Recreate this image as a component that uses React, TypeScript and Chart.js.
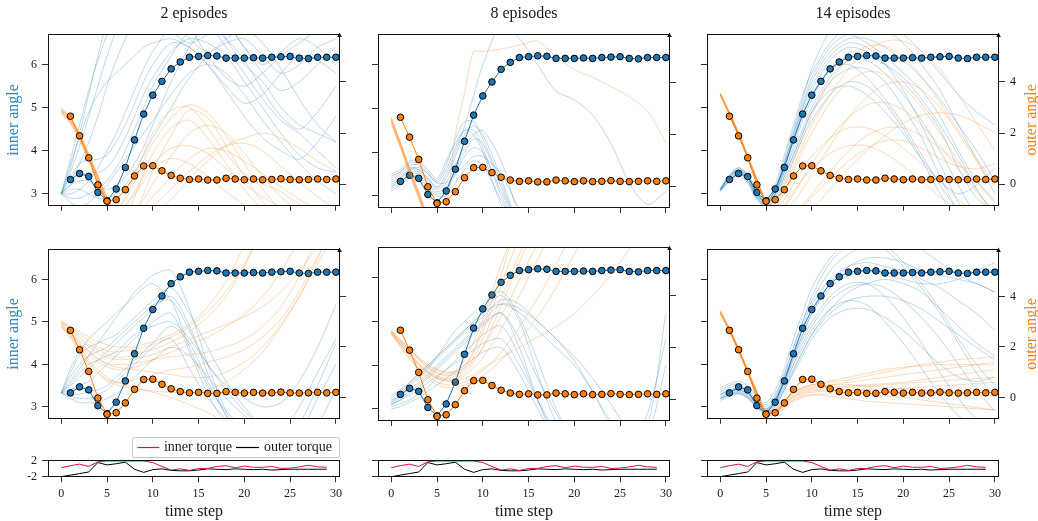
import React, { useEffect, useRef } from 'react';
import { Chart, registerables } from 'chart.js';

Chart.register(...registerables);

// ---------------- data ----------------
const COLUMN_TITLES = ['2 episodes', '8 episodes', '14 episodes'];
const X_TICKS = [0, 5, 10, 15, 20, 25, 30];
const INNER_TICKS = [3, 4, 5, 6];
const OUTER_TICKS = [0, 2, 4];
const TORQUE_TICKS = [-2, 2];

const STEPS = [1, 2, 3, 4, 5, 6, 7, 8, 9, 10, 11, 12, 13, 14, 15, 16, 17, 18, 19, 20, 21, 22, 23, 24, 25, 26, 27, 28, 29, 30];
const INNER_TARGET = [3.33, 3.47, 3.4, 3.03, 2.84, 3.11, 3.61, 4.25, 4.85, 5.29, 5.61, 5.9, 6.06, 6.17, 6.19, 6.21, 6.2, 6.15, 6.15, 6.15, 6.16, 6.15, 6.17, 6.18, 6.19, 6.15, 6.14, 6.17, 6.17, 6.17];
const OUTER_TARGET = [2.66, 1.89, 1.03, -0.03, -0.67, -0.61, -0.22, 0.32, 0.71, 0.72, 0.52, 0.34, 0.23, 0.18, 0.2, 0.16, 0.16, 0.23, 0.2, 0.17, 0.2, 0.17, 0.18, 0.21, 0.18, 0.17, 0.18, 0.2, 0.18, 0.2];

const TORQUE_STEPS = [0, 1, 2, 3, 4, 5, 6, 7, 8, 9, 10, 11, 12, 13, 14, 15, 16, 17, 18, 19, 20, 21, 22, 23, 24, 25, 26, 27, 28, 29];
const INNER_TORQUE = [0.3, 0.8, 1.2, 0.6, 1.8, 2, 2, 2, 2, 2, 1.6, 0.6, -0.3, 0, -0.4, 0.1, 0.1, 0.6, 0.8, 0.3, 0.7, 0.4, 0.4, 0.6, 0.1, 0.2, 0.5, 0.9, 0.5, 0.4];
const OUTER_TORQUE = [-2, -1.6, -1.2, -0.8, 1.6, 1.0, 1.3, 1.7, -0.1, -0.9, -0.2, 0, -0.4, -0.5, -0.5, -0.3, 0, -0.1, -0.2, 0, -0.1, -0.2, -0.1, -0.3, -0.2, -0.1, -0.1, -0.1, -0.1, -0.1];

// time grid of the sampled rollout trajectories
const ROLLOUT_STEPS = [0, 1, 2, 3, 4, 5, 6, 7, 8, 9, 10, 12, 14, 16, 18, 20, 22, 24, 26, 28, 30];

// top row, 2 episodes
const INNER_ROLLOUTS_2_TOP = [
  [3.0, 3.6, 4.4, 5.3, 6.2, 7.0, 7.6, 8, 8, 8, 8, 8, 8, 7.4, 6.6, 6.0, 5.6, 5.0, 4.6, 4.4, 4.2],
  [3.0, 3.3, 3.7, 4.2, 4.8, 5.5, 6.1, 6.6, 7.0, 7.4, 7.6, 7.2, 6.6, 6.3, 6.5, 6.6, 6.2, 5.8, 6.0, 6.4, 6.6],
  [3.0, 3.2, 3.4, 3.5, 3.5, 3.6, 3.9, 4.3, 4.8, 5.3, 5.7, 6.3, 6.6, 6.5, 6.2, 5.6, 5.0, 4.4, 3.9, 3.6, 3.5],
  [3.0, 2.9, 2.9, 3.0, 3.1, 3.3, 3.6, 4.0, 4.5, 5.0, 5.5, 6.2, 6.8, 7.2, 7.0, 6.4, 6.0, 6.3, 6.6, 6.4, 6.0],
  [3.0, 3.1, 3.1, 3.0, 2.9, 2.9, 3.0, 3.2, 3.5, 3.9, 4.3, 5.0, 5.7, 6.2, 6.6, 6.8, 6.5, 5.9, 5.2, 4.6, 4.2],
  [3.0, 3.8, 4.6, 5.4, 6.1, 6.7, 7.2, 7.6, 8, 8, 8, 7.6, 6.9, 6.2, 5.7, 5.5, 5.8, 6.2, 6.5, 6.8, 7.0],
  [3.0, 3.4, 3.7, 3.8, 3.8, 3.9, 4.2, 4.6, 5.1, 5.6, 6.0, 6.5, 6.4, 6.0, 5.4, 4.8, 4.3, 4.0, 3.8, 4.2, 4.8],
  [3.0, 2.8, 2.7, 2.8, 3.0, 3.2, 3.5, 3.8, 4.1, 4.4, 4.7, 5.3, 5.8, 6.0, 5.8, 5.3, 4.7, 4.2, 3.7, 3.3, 3.0],
  [3.0, 3.5, 4.1, 4.8, 5.5, 6.2, 6.8, 7.3, 7.6, 7.6, 7.4, 6.8, 6.5, 6.7, 6.9, 6.4, 5.8, 5.4, 5.6, 6.0, 6.4],
  [3.0, 3.2, 3.3, 3.3, 3.2, 3.1, 3.2, 3.4, 3.7, 4.1, 4.6, 5.6, 6.4, 6.9, 6.6, 6.1, 5.4, 4.8, 4.5, 4.9, 5.5],
  [3.0, 3.7, 4.3, 4.9, 5.3, 5.6, 5.8, 6.0, 6.2, 6.4, 6.5, 6.6, 6.4, 6.0, 5.5, 5.1, 5.3, 5.8, 6.2, 6.1, 5.8],
  [3.0, 3.0, 3.1, 3.3, 3.6, 4.0, 4.4, 4.9, 5.4, 5.9, 6.3, 6.9, 7.3, 7.0, 6.4, 5.8, 5.2, 4.7, 4.4, 4.0, 3.6],
];
const OUTER_ROLLOUTS_2_TOP = [
  [2.95, 2.55, 1.95, 1.15, 0.3, -0.55, -1.3, -1.6, -1.2, -0.4, 0.5, 1.9, 2.9, 2.6, 1.5, 0.3, -0.7, -1.3, -1.5],
  [2.9, 2.5, 1.85, 1.05, 0.2, -0.7, -1.4, -1.3, -0.5, 0.4, 1.2, 2.2, 2.5, 1.8, 0.8, -0.2, -1.0, -1.4],
  [2.85, 2.45, 1.8, 1.0, 0.15, -0.75, -1.2, -0.9, -0.3, 0.3, 0.8, 1.4, 1.5, 1.2, 0.6, 0.0, -0.5, -0.9, -1.2, -1.4],
  [2.8, 2.4, 1.75, 0.95, 0.1, -0.8, -1.5, -1.5, -1.1, -0.6, 0.0, 1.1, 2.0, 2.3, 2.0, 1.2, 0.3, -0.5, -1.1, -1.4],
  [2.98, 2.6, 2.0, 1.2, 0.35, -0.5, -1.0, -0.6, 0.1, 0.9, 1.6, 2.6, 3.1, 2.8, 1.9, 0.8, -0.2, -1.0, -1.4],
  [2.75, 2.35, 1.7, 0.9, 0.05, -0.85, -1.4, -1.4, -1.2, -0.9, -0.5, 0.3, 1.0, 1.4, 1.3, 0.9, 0.4, -0.1, -0.6, -1.0, -1.3],
  [2.92, 2.52, 1.9, 1.1, 0.25, -0.6, -1.1, -0.8, -0.4, 0.1, 0.6, 1.0, 0.8, 0.3, -0.3, -0.8, -1.2],
  [2.88, 2.48, 1.88, 1.08, 0.22, -0.65, -1.3, -1.6, -1.6, -1.3, -0.9, -0.2, 0.5, 1.1, 1.5, 1.6, 1.3, 0.7, 0.1, -0.5, -1.0],
  [2.82, 2.44, 1.82, 1.02, 0.18, -0.72, -1.0, -0.5, 0.3, 1.2, 2.0, 2.9, 3.0, 2.2, 1.2, 0.4, 0.0, -0.3, -0.8, -1.2],
  [2.96, 2.58, 1.98, 1.18, 0.32, -0.52, -1.2, -1.5, -1.5, -1.5, -1.2, -0.6, 0.2, 0.9, 1.5, 1.8, 2.0, 1.8, 1.4, 0.9, 0.5],
];

// top row, 8 episodes
const INNER_ROLLOUTS_8_TOP = [
  [3.3, 3.45, 3.6, 3.6, 3.4, 3.2, 3.4, 3.9, 4.4, 4.6, 4.4, 3.4, 2.2],
  [3.2, 3.35, 3.5, 3.5, 3.3, 3.1, 3.2, 3.6, 4.0, 4.3, 4.2, 3.2, 2.2],
  [3.4, 3.55, 3.7, 3.7, 3.5, 3.3, 3.6, 4.1, 4.5, 4.5, 4.1, 3.0, 2.2],
  [3.1, 3.25, 3.4, 3.4, 3.2, 3.0, 3.0, 3.3, 3.6, 3.8, 3.7, 2.9, 2.2],
  [3.5, 3.6, 3.8, 3.8, 3.6, 3.4, 3.8, 4.2, 4.5, 4.4, 4.0, 2.8, 2.2],
  [3.25, 3.4, 3.55, 3.55, 3.35, 3.15, 3.3, 3.7, 4.1, 4.4, 4.5, 3.8, 2.6, 2.2],
  [3.35, 3.5, 3.65, 3.6, 3.4, 3.2, 3.5, 4.0, 4.6, 5.3, 6.0, 6.9, 6.6, 6.0, 5.4, 5.2, 4.85, 4.2, 3.3, 2.8, 3.1],
  [3.15, 3.3, 3.45, 3.45, 3.25, 3.05, 3.1, 3.5, 3.9, 4.1, 4.0, 3.1, 2.2],
  [3.45, 3.55, 3.75, 3.75, 3.55, 3.35, 3.7, 4.3, 4.7, 4.7, 4.3, 3.3, 2.2],
  [3.2, 3.4, 3.6, 3.65, 3.5, 3.3, 3.3, 3.5, 3.7, 3.9, 3.9, 3.5, 2.7, 2.2],
];
const OUTER_ROLLOUTS_8_TOP = [
  [2.65, 1.7, 0.7, -0.25, -1.2, -2],
  [2.6, 1.65, 0.65, -0.3, -1.25, -2],
  [2.55, 1.6, 0.6, -0.35, -1.3, -2],
  [2.5, 1.55, 0.55, -0.4, -1.35, -2],
  [2.45, 1.5, 0.5, -0.45, -1.4, -2],
  [2.62, 1.68, 0.72, -0.2, -1.15, -2],
  [2.42, 1.45, 0.45, -0.5, -1.45, -2],
  [2.55, 1.6, 0.6, -0.35, -1.3, -2, -1.0, 2.0, 3.6, 5.2, 5.2, 5.3, 5.45, 5.6, 5.0, 4.5, 4.2, 3.85, 3.45, 2.9, 1.67],
];

// top row, 14 episodes
const INNER_ROLLOUTS_14_TOP = [
  [3.1, 3.4, 3.55, 3.4, 3.0, 2.8, 3.1, 3.7, 4.4, 5.0, 5.5, 6.2, 6.5, 6.4, 6.0, 5.4, 4.6, 3.7, 2.8, 2.2],
  [3.1, 3.35, 3.5, 3.35, 2.95, 2.75, 3.0, 3.5, 4.1, 4.7, 5.2, 5.9, 6.2, 6.1, 5.8, 5.3, 4.7, 4.0, 3.2, 2.5, 2.2],
  [3.05, 3.3, 3.45, 3.3, 2.9, 2.7, 2.9, 3.4, 3.9, 4.4, 4.9, 5.6, 5.9, 5.9, 5.6, 5.0, 4.3, 3.4, 2.6, 2.2],
  [3.1, 3.4, 3.6, 3.45, 3.05, 2.85, 3.2, 3.9, 4.6, 5.3, 5.8, 6.5, 6.9, 7.0, 6.8, 6.5, 6.0, 5.4, 4.6, 3.8, 3.0],
  [3.08, 3.32, 3.48, 3.3, 2.9, 2.75, 3.0, 3.6, 4.2, 4.8, 5.3, 5.9, 6.0, 5.7, 5.2, 4.6, 3.9, 3.2, 2.6, 2.2],
  [3.12, 3.45, 3.6, 3.45, 3.05, 2.8, 3.05, 3.6, 4.3, 5.0, 5.6, 6.3, 6.6, 6.6, 6.4, 6.1, 5.7, 5.2, 4.6, 4.0, 3.3],
  [3.06, 3.28, 3.42, 3.25, 2.85, 2.7, 2.85, 3.3, 3.8, 4.3, 4.7, 5.3, 5.6, 5.5, 5.1, 4.5, 3.8, 3.0, 2.4, 2.2],
  [3.1, 3.38, 3.55, 3.4, 3.0, 2.8, 3.1, 3.8, 4.5, 5.2, 5.9, 6.8, 7.2, 7.2, 7.0, 6.7, 6.3, 5.8, 5.3, 4.9, 4.6],
  [3.09, 3.36, 3.52, 3.36, 2.97, 2.78, 3.0, 3.5, 4.0, 4.5, 5.0, 5.7, 6.1, 6.2, 6.0, 5.7, 5.2, 4.6, 3.9, 3.1, 2.5],
  [3.11, 3.42, 3.58, 3.42, 3.02, 2.82, 3.1, 3.7, 4.4, 5.1, 5.7, 6.4, 6.7, 6.5, 6.2, 5.8, 5.4, 4.8, 4.0, 3.3, 2.8],
  [3.07, 3.3, 3.46, 3.3, 2.92, 2.72, 2.95, 3.4, 3.9, 4.4, 4.9, 5.4, 5.5, 5.3, 4.9, 4.4, 3.8, 3.3, 3.0, 3.2, 3.6],
  [3.1, 3.4, 3.55, 3.38, 2.98, 2.8, 3.08, 3.7, 4.3, 4.9, 5.4, 6.1, 6.4, 6.3, 6.0, 5.6, 5.1, 4.5, 3.6, 2.9, 2.6],
];
const OUTER_ROLLOUTS_14_TOP = [
  [3.55, 2.8, 2.0, 1.1, 0.2, -0.7, -0.9, -0.3, 0.5, 1.3, 2.0, 3.2, 4.0, 4.4, 4.3, 3.8, 3.0, 2.0, 0.9, -0.2, -1.2],
  [3.5, 2.75, 1.95, 1.05, 0.15, -0.75, -1.2, -0.9, -0.4, 0.2, 0.8, 1.8, 2.6, 3.1, 3.2, 2.9, 2.3, 1.5, 0.6, -0.3, -1.1],
  [3.48, 2.72, 1.92, 1.02, 0.12, -0.78, -1.3, -1.3, -1.1, -0.8, -0.4, 0.5, 1.3, 1.9, 2.2, 2.2, 1.9, 1.4, 0.8, 0.1, -0.6],
  [3.57, 2.82, 2.02, 1.12, 0.22, -0.68, -0.7, 0.0, 0.9, 1.8, 2.7, 4.0, 4.9, 5.4, 5.4, 5.0, 4.2, 3.2, 2.1, 1.0, 0.0],
  [3.52, 2.77, 1.97, 1.07, 0.17, -0.73, -1.0, -0.6, 0.0, 0.6, 1.1, 1.8, 2.2, 2.2, 1.9, 1.4, 0.8, 0.1, -0.6, -1.2],
  [3.46, 2.7, 1.9, 1.0, 0.1, -0.8, -1.4, -1.5, -1.5, -1.3, -1.0, -0.2, 0.6, 1.3, 1.9, 2.4, 2.7, 2.8, 2.7, 2.4, 2.0],
  [3.54, 2.79, 1.99, 1.09, 0.19, -0.71, -0.8, -0.1, 0.7, 1.5, 2.3, 3.5, 4.5, 5.2, 5.6, 5.6, 5.2, 4.5, 3.5, 2.4, 1.3],
  [3.5, 2.74, 1.94, 1.04, 0.14, -0.76, -1.1, -0.8, -0.3, 0.2, 0.6, 1.2, 1.5, 1.5, 1.2, 0.7, 0.1, -0.5, -1.0, -1.4],
  [3.56, 2.8, 2.0, 1.1, 0.2, -0.7, -1.2, -1.1, -0.7, -0.2, 0.4, 1.5, 2.6, 3.4, 3.9, 4.0, 3.7, 3.0, 2.0, 0.9, -0.1],
  [3.49, 2.73, 1.93, 1.03, 0.13, -0.77, -1.3, -1.4, -1.2, -0.9, -0.5, 0.2, 0.9, 1.4, 1.7, 1.7, 1.4, 1.0, 0.7, 0.6, 0.8],
];

// bottom row, 2 episodes
const INNER_ROLLOUTS_2_BOTTOM = [
  [3.33, 3.6, 3.9, 4.2, 4.5, 4.8, 5.1, 5.4, 5.7, 5.9, 6.1, 6.2, 5.3, 4.0, 2.9, 2.2],
  [3.33, 3.5, 3.7, 3.9, 4.1, 4.3, 4.5, 4.7, 4.9, 5.1, 5.3, 5.6, 4.9, 3.8, 2.8, 2.2, 2.2, 2.2, 2.2, 2.6, 3.4],
  [3.33, 3.3, 3.3, 3.35, 3.4, 3.5, 3.7, 3.9, 4.1, 4.3, 4.5, 4.9, 4.5, 3.6, 2.8, 2.2, 2.2, 2.2, 2.6, 3.5, 4.5],
  [3.33, 3.8, 4.2, 4.4, 4.5, 4.6, 4.7, 4.9, 5.1, 5.3, 5.5, 5.8, 5.2, 4.4, 3.6, 3.0, 2.5, 2.2],
  [3.33, 3.2, 3.1, 3.1, 3.1, 3.2, 3.3, 3.5, 3.7, 3.9, 4.1, 4.4, 4.2, 3.7, 3.2, 2.8, 2.4, 2.2],
  [3.33, 3.7, 4.0, 4.2, 4.3, 4.4, 4.6, 4.8, 5.0, 5.2, 5.4, 5.5, 4.8, 4.0, 3.5, 3.2, 3.0, 3.1, 3.6, 4.4, 5.4],
  [3.33, 3.4, 3.5, 3.6, 3.8, 4.0, 4.2, 4.4, 4.6, 4.8, 5.0, 5.2, 4.3, 3.3, 2.6, 2.2],
  [3.33, 3.9, 4.3, 4.6, 4.8, 5.0, 5.2, 5.4, 5.6, 5.8, 5.9, 5.5, 4.4, 3.5, 2.9, 2.5, 2.2, 2.2, 2.4, 3.2, 4.0],
  [3.33, 3.25, 3.2, 3.2, 3.3, 3.4, 3.6, 3.8, 4.0, 4.2, 4.4, 4.6, 3.9, 3.2, 2.7, 2.2, 2.2, 2.4, 3.0, 3.8, 4.6],
  [3.33, 3.55, 3.8, 4.0, 4.1, 4.2, 4.3, 4.5, 4.7, 4.8, 4.9, 5.0, 4.6, 4.0, 3.4, 2.9, 2.5, 2.2],
];
const OUTER_ROLLOUTS_2_BOTTOM = [
  [3.0, 2.7, 2.4, 2.1, 1.9, 1.7, 1.6, 1.6, 1.7, 1.8, 1.9, 2.2, 2.6, 3.2, 4.0, 5.2, 6.5, 7],
  [2.9, 2.5, 2.1, 1.7, 1.4, 1.2, 1.1, 1.1, 1.2, 1.3, 1.5, 1.8, 2.1, 2.4, 2.8, 3.3, 4.0, 5.0, 6.2, 7],
  [2.8, 2.4, 1.9, 1.4, 1.0, 0.7, 0.6, 0.6, 0.7, 0.8, 0.9, 1.1, 1.2, 1.4, 1.6, 1.9, 2.4, 3.1, 4.2, 5.6, 7],
  [3.05, 2.8, 2.6, 2.4, 2.2, 2.1, 2.0, 2.0, 2.0, 2.1, 2.2, 2.5, 2.9, 3.6, 4.6, 6.0, 7],
  [2.95, 2.6, 2.2, 1.85, 1.55, 1.35, 1.3, 1.3, 1.35, 1.4, 1.5, 1.6, 1.7, 1.8, 2.0, 2.3, 2.8, 3.6, 4.8, 6.3, 7],
  [2.85, 2.45, 2.0, 1.5, 1.1, 0.8, 0.6, 0.5, 0.4, 0.3, 0.2, 0.0, -0.3, -0.6, -1.0, -1.4],
  [3.0, 2.65, 2.3, 2.0, 1.75, 1.6, 1.5, 1.5, 1.55, 1.6, 1.7, 2.0, 2.3, 2.6, 2.9, 3.2, 3.6, 4.2, 5.0, 6.0, 7],
  [2.9, 2.55, 2.15, 1.8, 1.5, 1.3, 1.2, 1.15, 1.1, 1.05, 1.0, 0.9, 0.8, 0.8, 1.0, 1.4, 2.0, 2.9, 4.0, 5.3, 6.6],
  [2.8, 2.35, 1.85, 1.35, 0.95, 0.65, 0.5, 0.4, 0.35, 0.3, 0.25, 0.2, 0.2, 0.3, 0.6, 1.1, 1.8, 2.8, 4.0, 5.5, 7],
  [3.02, 2.75, 2.5, 2.25, 2.0, 1.85, 1.8, 1.85, 1.9, 2.0, 2.1, 2.4, 2.8, 3.4, 4.2, 5.3, 6.6, 7],
];

// bottom row, 8 episodes
const INNER_ROLLOUTS_8_BOTTOM = [
  [3.1, 3.2, 3.35, 3.5, 3.7, 3.9, 4.1, 4.3, 4.5, 4.7, 4.9, 5.2, 4.4, 3.2, 2.2],
  [3.15, 3.3, 3.5, 3.7, 3.9, 4.2, 4.4, 4.6, 4.8, 5.0, 5.2, 5.6, 5.0, 3.8, 2.7, 2.2],
  [3.05, 3.12, 3.2, 3.35, 3.5, 3.7, 3.9, 4.1, 4.3, 4.5, 4.7, 4.9, 4.2, 3.2, 2.4, 2.2, 2.2, 2.2, 2.2, 2.9, 4.6],
  [3.25, 3.4, 3.6, 3.8, 4.0, 4.2, 4.4, 4.6, 4.8, 5.0, 5.2, 5.4, 5.2, 4.8, 4.4, 4.0, 3.4, 2.6, 2.2],
  [3.1, 3.2, 3.3, 3.45, 3.6, 3.75, 3.9, 4.05, 4.2, 4.35, 4.5, 4.6, 4.0, 3.2, 2.5, 2.2],
  [3.2, 3.35, 3.55, 3.75, 3.95, 4.15, 4.35, 4.55, 4.75, 4.95, 5.1, 5.5, 5.4, 5.0, 4.6, 4.1, 3.4, 2.7, 2.2],
  [3.0, 3.05, 3.15, 3.25, 3.4, 3.55, 3.7, 3.85, 4.0, 4.15, 4.3, 4.4, 3.8, 3.0, 2.3, 2.2, 2.2, 2.2, 2.2, 2.6, 5.2],
  [3.3, 3.45, 3.6, 3.8, 4.0, 4.2, 4.5, 4.8, 5.0, 5.2, 5.4, 5.7, 5.1, 4.1, 3.0, 2.2],
  [3.12, 3.25, 3.4, 3.55, 3.75, 3.95, 4.15, 4.35, 4.55, 4.75, 4.95, 5.2, 4.6, 3.7, 2.9, 2.2, 2.2, 2.2, 2.2, 2.4, 4.0],
  [3.18, 3.3, 3.45, 3.6, 3.8, 4.0, 4.2, 4.4, 4.6, 4.8, 5.0, 5.4, 5.3, 5.0, 4.6, 4.2, 3.7, 3.1, 2.5, 2.2],
];
const OUTER_ROLLOUTS_8_BOTTOM = [
  [2.6, 2.2, 1.8, 1.4, 1.1, 0.9, 0.8, 0.9, 1.2, 1.8, 2.6, 4.4, 6.2, 7],
  [2.55, 2.1, 1.7, 1.3, 1.0, 0.8, 0.7, 0.75, 0.9, 1.2, 1.6, 2.7, 4.0, 5.4, 6.8, 7],
  [2.65, 2.3, 1.95, 1.6, 1.35, 1.15, 1.05, 1.05, 1.2, 1.5, 2.0, 3.2, 4.6, 6.0, 7],
  [2.5, 2.0, 1.55, 1.15, 0.8, 0.55, 0.45, 0.45, 0.55, 0.7, 0.9, 1.5, 2.3, 3.2, 4.3, 5.6, 7],
  [2.6, 2.25, 1.9, 1.55, 1.25, 1.0, 0.95, 1.0, 1.3, 1.9, 2.8, 4.8, 6.8, 7],
  [2.58, 2.15, 1.75, 1.35, 1.05, 0.85, 0.75, 0.8, 1.0, 1.4, 2.0, 3.6, 5.3, 7],
  [2.52, 2.05, 1.6, 1.2, 0.9, 0.65, 0.55, 0.55, 0.65, 0.85, 1.1, 1.8, 2.8, 3.9, 5.2, 6.5, 7],
  [2.62, 2.28, 1.92, 1.58, 1.3, 1.1, 1.0, 1.1, 1.5, 2.2, 3.1, 5.2, 7],
  [2.56, 2.12, 1.72, 1.32, 1.02, 0.8, 0.7, 0.7, 0.8, 0.95, 1.2, 1.6, 2.0, 2.4, 2.8, 3.3, 4.0, 4.8, 5.8, 7],
  [2.6, 2.2, 1.85, 1.5, 1.2, 1.0, 0.9, 0.95, 1.1, 1.6, 2.3, 3.9, 5.6, 7],
];

// bottom row, 14 episodes
const INNER_ROLLOUTS_14_BOTTOM = [
  [3.3, 3.4, 3.45, 3.35, 3.1, 2.95, 3.2, 3.7, 4.3, 4.9, 5.4, 6.0, 6.3, 6.4, 6.3, 6.2, 6.0, 5.8, 5.5, 5.2, 4.8],
  [3.2, 3.3, 3.35, 3.25, 3.0, 2.9, 3.1, 3.5, 4.0, 4.5, 4.9, 5.5, 5.8, 5.9, 5.8, 5.5, 5.1, 4.6, 4.0, 3.4, 2.9],
  [3.4, 3.5, 3.55, 3.45, 3.2, 3.05, 3.3, 3.8, 4.4, 5.0, 5.5, 6.2, 6.6, 6.8, 6.9, 6.9, 6.7, 6.4, 6.1, 5.9, 5.7],
  [3.25, 3.35, 3.4, 3.3, 3.05, 2.92, 3.15, 3.6, 4.1, 4.6, 5.0, 5.6, 5.9, 5.9, 5.6, 5.1, 4.5, 3.8, 3.2, 2.7, 2.3],
  [3.15, 3.25, 3.3, 3.2, 2.97, 2.85, 3.0, 3.4, 3.8, 4.2, 4.6, 5.1, 5.3, 5.3, 5.1, 4.8, 4.4, 4.0, 3.7, 3.6, 3.7],
  [3.35, 3.45, 3.5, 3.4, 3.15, 3.0, 3.25, 3.75, 4.4, 5.0, 5.6, 6.4, 6.8, 6.9, 6.7, 6.3, 5.8, 5.2, 4.5, 3.8, 3.2],
  [3.3, 3.38, 3.42, 3.32, 3.08, 2.95, 3.18, 3.65, 4.2, 4.7, 5.2, 5.8, 6.1, 6.2, 6.1, 6.0, 5.9, 5.9, 6.0, 6.2, 6.4],
  [3.2, 3.28, 3.32, 3.22, 3.0, 2.88, 3.05, 3.45, 3.9, 4.3, 4.7, 5.2, 5.5, 5.6, 5.6, 5.5, 5.3, 5.0, 4.7, 4.4, 4.1],
  [3.45, 3.55, 3.6, 3.5, 3.25, 3.1, 3.4, 3.9, 4.6, 5.2, 5.8, 6.5, 6.9, 7.0, 6.8, 6.4, 5.9, 5.3, 4.6, 4.0, 3.5],
  [3.22, 3.32, 3.37, 3.27, 3.03, 2.9, 3.1, 3.55, 4.0, 4.4, 4.8, 5.3, 5.5, 5.4, 5.0, 4.5, 3.9, 3.3, 2.8, 2.5, 2.4],
  [3.28, 3.36, 3.4, 3.3, 3.06, 2.93, 3.14, 3.6, 4.15, 4.7, 5.2, 5.9, 6.3, 6.5, 6.5, 6.4, 6.2, 6.1, 6.0, 5.9, 5.7],
  [3.18, 3.28, 3.33, 3.23, 2.99, 2.87, 3.02, 3.4, 3.85, 4.3, 4.7, 5.3, 5.7, 5.9, 6.0, 5.9, 5.7, 5.3, 4.9, 4.5, 4.2],
];
const OUTER_ROLLOUTS_14_BOTTOM = [
  [3.4, 2.7, 1.9, 1.05, 0.2, -0.6, -0.5, -0.2, 0.1, 0.3, 0.4, 0.5, 0.6, 0.7, 0.8, 0.9, 1.0, 1.1, 1.2, 1.3, 1.4],
  [3.35, 2.65, 1.85, 1.0, 0.15, -0.65, -0.6, -0.3, 0.0, 0.2, 0.3, 0.35, 0.4, 0.45, 0.5, 0.55, 0.6, 0.65, 0.7, 0.75, 0.8],
  [3.45, 2.75, 1.95, 1.1, 0.25, -0.55, -0.45, -0.1, 0.2, 0.4, 0.5, 0.6, 0.7, 0.85, 1.0, 1.15, 1.3, 1.4, 1.5, 1.55, 1.6],
  [3.3, 2.6, 1.8, 0.95, 0.1, -0.7, -0.7, -0.45, -0.2, 0.0, 0.1, 0.15, 0.15, 0.1, 0.05, 0.0, -0.1, -0.2, -0.3, -0.4, -0.5],
  [3.38, 2.68, 1.88, 1.03, 0.18, -0.62, -0.55, -0.25, 0.05, 0.25, 0.35, 0.4, 0.45, 0.5, 0.55, 0.6, 0.7, 0.8, 0.9, 1.0, 1.1],
  [3.42, 2.72, 1.92, 1.07, 0.22, -0.58, -0.5, -0.15, 0.15, 0.35, 0.45, 0.5, 0.5, 0.45, 0.4, 0.35, 0.3, 0.25, 0.2, 0.15, 0.1],
  [3.32, 2.62, 1.82, 0.97, 0.12, -0.68, -0.65, -0.4, -0.1, 0.1, 0.2, 0.25, 0.3, 0.3, 0.3, 0.35, 0.4, 0.45, 0.5, 0.55, 0.6],
  [3.36, 2.66, 1.86, 1.01, 0.16, -0.64, -0.6, -0.35, -0.1, 0.05, 0.1, 0.05, -0.05, -0.15, -0.2, -0.25, -0.3, -0.35, -0.4, -0.45, -0.5],
  [3.44, 2.74, 1.94, 1.09, 0.24, -0.56, -0.48, -0.12, 0.18, 0.38, 0.5, 0.65, 0.8, 0.95, 1.1, 1.2, 1.25, 1.3, 1.3, 1.3, 1.3],
  [3.34, 2.64, 1.84, 0.99, 0.14, -0.66, -0.62, -0.3, 0.0, 0.15, 0.25, 0.3, 0.3, 0.25, 0.2, 0.15, 0.15, 0.15, 0.2, 0.25, 0.3],
];

const INNER_ROLLOUTS = [
  [INNER_ROLLOUTS_2_TOP, INNER_ROLLOUTS_8_TOP, INNER_ROLLOUTS_14_TOP],
  [INNER_ROLLOUTS_2_BOTTOM, INNER_ROLLOUTS_8_BOTTOM, INNER_ROLLOUTS_14_BOTTOM],
];
const OUTER_ROLLOUTS = [
  [OUTER_ROLLOUTS_2_TOP, OUTER_ROLLOUTS_8_TOP, OUTER_ROLLOUTS_14_TOP],
  [OUTER_ROLLOUTS_2_BOTTOM, OUTER_ROLLOUTS_8_BOTTOM, OUTER_ROLLOUTS_14_BOTTOM],
];

// ---------------- style / layout ----------------
const FONT = "'Liberation Serif', 'Times New Roman', serif";
const BLUE = '#1f77b4';
const ORANGE = '#ff7f0e';
const BLUE_FAINT = 'rgba(31,119,180,0.28)';
const ORANGE_FAINT = 'rgba(255,127,14,0.28)';
const INNER_LABEL_COLOR = '#2b86c8';
const TORQUE_RED = '#d4124b';
const TICK_COLOR = '#333';
const TEXT_COLOR = '#1a1a1a';

const CANVAS_LEFT = [0, 330, 659];
const AXIS_W = 48;
const PLOT_W = 292;
const CANVAS_W = AXIS_W * 2 + PLOT_W;
const X_MIN = -1.45;
const X_MAX = 30.45;

const fixTicks = (vals: number[]) => (scale: any) => {
  scale.ticks = vals.map((v) => ({ value: v }));
};

const framePlugin = (arrow: boolean) => ({
  id: 'frame',
  afterDraw(chart: any) {
    const { ctx, chartArea } = chart;
    const l = Math.round(chartArea.left);
    const t = Math.round(chartArea.top);
    const r = Math.round(chartArea.right);
    const b = Math.round(chartArea.bottom);
    ctx.save();
    ctx.strokeStyle = '#111';
    ctx.lineWidth = 1;
    ctx.strokeRect(l + 0.5, t + 0.5, r - l - 1, b - t - 1);
    if (arrow) {
      ctx.fillStyle = '#111';
      ctx.beginPath();
      ctx.moveTo(r - 0.5, t - 1.5);
      ctx.lineTo(r - 2.8, t + 3);
      ctx.lineTo(r + 1.8, t + 3);
      ctx.closePath();
      ctx.fill();
    }
    ctx.restore();
  },
});

const rightTitlePlugin = (text: string, x: number) => ({
  id: 'rightTitle',
  afterDraw(chart: any) {
    const { ctx, chartArea } = chart;
    ctx.save();
    ctx.translate(x, (chartArea.top + chartArea.bottom) / 2);
    ctx.rotate(-Math.PI / 2);
    ctx.font = `16px ${FONT}`;
    ctx.fillStyle = ORANGE;
    ctx.textAlign = 'center';
    ctx.textBaseline = 'middle';
    ctx.fillText(text, 0, 0);
    ctx.restore();
  },
});

const torqueLegendPlugin = {
  id: 'torqueLegend',
  afterDraw(chart: any) {
    const { ctx, chartArea } = chart;
    const items = chart.data.datasets.map((d: any) => ({ text: d.label, color: d.borderColor }));
    ctx.save();
    ctx.font = `14px ${FONT}`;
    const w1 = ctx.measureText(items[0].text).width;
    const w2 = ctx.measureText(items[1].text).width;
    const total = 5.5 + 26.5 + w1 + 4 + 23 + 5 + w2 + 7;
    const right = Math.round(chartArea.right) - 1;
    const bottom = Math.round(chartArea.top) - 3;
    const top = bottom - 20;
    const left = right - total;
    ctx.fillStyle = '#fff';
    ctx.strokeStyle = '#c8c8c8';
    ctx.lineWidth = 1;
    ctx.beginPath();
    ctx.roundRect(Math.round(left) + 0.5, top + 0.5, Math.round(total), 20, 2);
    ctx.fill();
    ctx.stroke();
    const cy = (top + bottom) / 2 + 0.5;
    let x = left + 5.5;
    const drawItem = (item: any, lineLen: number, gap: number) => {
      ctx.strokeStyle = item.color;
      ctx.lineWidth = 1.2;
      ctx.beginPath();
      ctx.moveTo(x, cy);
      ctx.lineTo(x + lineLen, cy);
      ctx.stroke();
      x += lineLen + gap;
      ctx.fillStyle = TEXT_COLOR;
      ctx.textBaseline = 'middle';
      ctx.textAlign = 'left';
      ctx.fillText(item.text, x, cy);
      x += ctx.measureText(item.text).width;
    };
    drawItem(items[0], 22, 4.5);
    x += 4;
    drawItem(items[1], 23, 5);
    ctx.restore();
  },
};

function pts(xs: number[], ys: number[]) {
  return ys.map((y, i) => ({ x: xs[i], y }));
}

function mainConfig(row: number, col: number): any {
  const datasets: any[] = [];
  datasets.push({
    label: 'inner angle',
    data: pts(STEPS, INNER_TARGET),
    yAxisID: 'y',
    borderColor: BLUE,
    backgroundColor: BLUE,
    pointBackgroundColor: BLUE,
    pointBorderColor: '#000',
    pointBorderWidth: 1,
    pointRadius: 3.3,
    borderWidth: 1,
    order: 2,
  });
  datasets.push({
    label: 'outer angle',
    data: pts(STEPS, OUTER_TARGET),
    yAxisID: 'y2',
    borderColor: ORANGE,
    backgroundColor: ORANGE,
    pointBackgroundColor: ORANGE,
    pointBorderColor: '#000',
    pointBorderWidth: 1,
    pointRadius: 3.3,
    borderWidth: 1,
    order: 0,
  });
  INNER_ROLLOUTS[row][col].forEach((line) =>
    datasets.push({
      data: pts(ROLLOUT_STEPS, line),
      yAxisID: 'y',
      borderColor: BLUE_FAINT,
      borderWidth: 1,
      pointRadius: 0,
      tension: 0.3,
      order: 3,
    })
  );
  OUTER_ROLLOUTS[row][col].forEach((line) =>
    datasets.push({
      data: pts(ROLLOUT_STEPS, line),
      yAxisID: 'y2',
      borderColor: ORANGE_FAINT,
      borderWidth: 1,
      pointRadius: 0,
      tension: 0.3,
      order: 1,
    })
  );

  const tickFont = { family: FONT, size: 12 };
  const plugins: any[] = [framePlugin(true)];
  if (col === 2) plugins.push(rightTitlePlugin('outer angle', 373));

  return {
    type: 'line',
    data: { datasets },
    plugins,
    options: {
      responsive: false,
      animation: false,
      events: [],
      layout: { padding: { top: row === 0 ? 0 : 10, left: 0, right: 0, bottom: 0 } },
      plugins: {
        legend: { display: false },
        tooltip: { enabled: false },
        title: {
          display: row === 0,
          text: COLUMN_TITLES[col],
          fullSize: false,
          color: TEXT_COLOR,
          font: { family: FONT, size: 16, weight: 'normal', lineHeight: 1.2 },
          padding: { top: 4, bottom: 10.8 },
        },
      },
      scales: {
        x: {
          type: 'linear',
          min: X_MIN,
          max: X_MAX,
          afterBuildTicks: fixTicks(X_TICKS),
          afterFit: (s: any) => { s.height = 10; },
          grid: { drawOnChartArea: false, drawTicks: true, tickLength: 5, color: TICK_COLOR },
          border: { display: false },
          ticks: { display: false },
        },
        y: {
          type: 'linear',
          position: 'left',
          min: 2.72,
          max: 6.71,
          afterBuildTicks: fixTicks(INNER_TICKS),
          afterFit: (s: any) => { s.width = AXIS_W; },
          grid: { drawOnChartArea: false, drawTicks: true, tickLength: 6, color: TICK_COLOR },
          border: { display: false },
          ticks: { display: col === 0, padding: 5, color: TEXT_COLOR, font: tickFont },
          title: {
            display: col === 0,
            text: 'inner angle',
            color: INNER_LABEL_COLOR,
            font: { family: FONT, size: 16, lineHeight: 1.2 },
            padding: { top: 4, bottom: 0 },
          },
        },
        y2: {
          type: 'linear',
          position: 'right',
          min: -0.85,
          max: 5.88,
          afterBuildTicks: fixTicks(OUTER_TICKS),
          afterFit: (s: any) => { s.width = AXIS_W; },
          grid: { drawOnChartArea: false, drawTicks: true, tickLength: 6, color: TICK_COLOR },
          border: { display: false },
          ticks: { display: col === 2, padding: 5, color: TEXT_COLOR, font: tickFont },
        },
      },
    },
  };
}

function torqueConfig(col: number): any {
  const tickFont = { family: FONT, size: 12 };
  const plugins: any[] = [framePlugin(false)];
  if (col === 0) plugins.push(torqueLegendPlugin);
  return {
    type: 'line',
    data: {
      datasets: [
        {
          label: 'inner torque',
          data: pts(TORQUE_STEPS, INNER_TORQUE),
          borderColor: TORQUE_RED,
          borderWidth: 1,
          pointRadius: 0,
        },
        {
          label: 'outer torque',
          data: pts(TORQUE_STEPS, OUTER_TORQUE),
          borderColor: '#000',
          borderWidth: 1,
          pointRadius: 0,
        },
      ],
    },
    plugins,
    options: {
      responsive: false,
      animation: false,
      events: [],
      layout: { padding: { top: 30, left: 0, right: AXIS_W, bottom: 0 } },
      plugins: { legend: { display: false }, tooltip: { enabled: false }, title: { display: false } },
      scales: {
        x: {
          type: 'linear',
          min: X_MIN,
          max: X_MAX,
          afterBuildTicks: fixTicks(X_TICKS),
          afterFit: (s: any) => { s.height = 43.7; },
          grid: { drawOnChartArea: false, drawTicks: true, tickLength: 5, color: TICK_COLOR },
          border: { display: false },
          ticks: { display: true, padding: 4.5, color: TEXT_COLOR, font: tickFont, maxRotation: 0 },
          title: {
            display: true,
            text: 'time step',
            color: TEXT_COLOR,
            font: { family: FONT, size: 16, lineHeight: 1.2 },
            padding: { top: 0, bottom: 0 },
          },
        },
        y: {
          type: 'linear',
          position: 'left',
          min: -2.15,
          max: 2.25,
          afterBuildTicks: fixTicks(TORQUE_TICKS),
          afterFit: (s: any) => { s.width = AXIS_W; },
          grid: { drawOnChartArea: false, drawTicks: true, tickLength: 6, color: TICK_COLOR },
          border: { display: false },
          ticks: { display: col === 0, padding: 5, color: TEXT_COLOR, font: tickFont, autoSkip: false },
        },
      },
    },
  };
}

function ChartCanvas(props: { left: number; top: number; height: number; make: () => any }) {
  const ref = useRef<HTMLCanvasElement | null>(null);
  useEffect(() => {
    const chart = new Chart(ref.current as HTMLCanvasElement, props.make());
    return () => chart.destroy();
  }, []);
  return (
    <canvas
      ref={ref}
      width={CANVAS_W}
      height={props.height}
      style={{ position: 'absolute', left: props.left, top: props.top, width: CANVAS_W, height: props.height }}
    />
  );
}

export default function App() {
  const cols = [0, 1, 2];
  return (
    <div
      style={{
        position: 'absolute',
        left: 0,
        top: 0,
        width: 1038,
        height: 521,
        overflow: 'hidden',
        background: '#fff',
      }}
    >
      {cols.map((c) => (
        <ChartCanvas key={'a' + c} left={CANVAS_LEFT[c]} top={0} height={218} make={() => mainConfig(0, c)} />
      ))}
      {cols.map((c) => (
        <ChartCanvas key={'b' + c} left={CANVAS_LEFT[c]} top={237} height={194} make={() => mainConfig(1, c)} />
      ))}
      {cols.map((c) => (
        <ChartCanvas key={'c' + c} left={CANVAS_LEFT[c]} top={430} height={91} make={() => torqueConfig(c)} />
      ))}
    </div>
  );
}
